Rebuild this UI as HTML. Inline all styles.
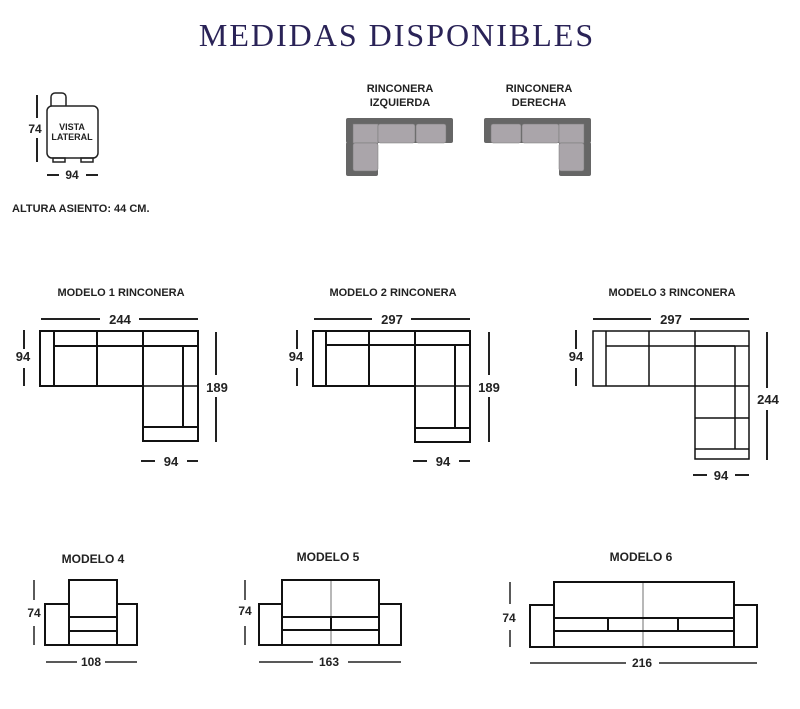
<!DOCTYPE html>
<html><head><meta charset="utf-8"><style>
html,body{margin:0;padding:0;background:#fff;width:800px;height:709px;overflow:hidden}
svg{display:block}
text{font-family:"Liberation Sans",Arial,sans-serif;fill:#222;font-weight:bold}
</style></head><body>
<svg width="800" height="709" viewBox="0 0 800 709" xmlns="http://www.w3.org/2000/svg">
<text x="397" y="46" text-anchor="middle" style="font-family:'Liberation Serif',serif;font-weight:normal;font-size:32px;letter-spacing:2px;fill:#2a2357">MEDIDAS DISPONIBLES</text>

<!-- side view -->
<g fill="none" stroke="#222" stroke-width="1.5">
<rect x="51" y="93" width="15" height="16" rx="4"/>
<rect x="47" y="106" width="51" height="52" rx="5" fill="#fff"/>
<rect x="53" y="158" width="12" height="4"/><rect x="81" y="158" width="12" height="4"/>
</g>
<g stroke="#222" stroke-width="2"><line x1="37" y1="95" x2="37" y2="118"/><line x1="37" y1="138" x2="37" y2="162"/>
<line x1="47" y1="175" x2="59" y2="175"/><line x1="86" y1="175" x2="98" y2="175"/></g>
<text x="35" y="133" text-anchor="middle" font-size="12">74</text>
<text x="72" y="130" text-anchor="middle" font-size="9">VISTA</text>
<text x="72" y="140" text-anchor="middle" font-size="9">LATERAL</text>
<text x="72" y="179" text-anchor="middle" font-size="12">94</text>
<text x="12" y="212" font-size="11">ALTURA ASIENTO: 44 CM.</text>

<!-- corner icons -->
<text x="400" y="92" text-anchor="middle" font-size="11">RINCONERA</text>
<text x="400" y="106" text-anchor="middle" font-size="11">IZQUIERDA</text>
<text x="539" y="92" text-anchor="middle" font-size="11">RINCONERA</text>
<text x="539" y="106" text-anchor="middle" font-size="11">DERECHA</text>
<g fill="#666">
<rect x="346" y="118" width="107" height="25" rx="2"/><rect x="346" y="142" width="32" height="34" rx="2"/>
<rect x="484" y="118" width="107" height="25" rx="2"/><rect x="559" y="142" width="32" height="34" rx="2"/>
</g>
<g fill="#aaa5aa" stroke="#777" stroke-width="0.5">
<rect x="353" y="124" width="25" height="19"/><rect x="378" y="124" width="37" height="19" rx="2"/><rect x="416" y="124" width="30" height="19" rx="2"/>
<rect x="353" y="143" width="25" height="28" rx="2"/>
<rect x="491" y="124" width="30" height="19" rx="2"/><rect x="522" y="124" width="37" height="19" rx="2"/><rect x="559" y="124" width="25" height="19"/>
<rect x="559" y="143" width="25" height="28" rx="2"/>
</g>

<!-- Model titles -->
<text x="121" y="296" text-anchor="middle" font-size="11">MODELO 1 RINCONERA</text>
<text x="393" y="296" text-anchor="middle" font-size="11">MODELO 2 RINCONERA</text>
<text x="672" y="296" text-anchor="middle" font-size="11">MODELO 3 RINCONERA</text>

<!-- Model 1 -->
<g fill="none" stroke="#111" stroke-width="2">
<path d="M40 331 H198 V441 H143 V386 H40 Z"/>
<line x1="54" y1="331" x2="54" y2="386"/><line x1="54" y1="346" x2="183" y2="346"/>
<line x1="97" y1="331" x2="97" y2="386"/><line x1="143" y1="331" x2="143" y2="386"/>
<line x1="143" y1="346" x2="198" y2="346"/><line x1="183" y1="346" x2="183" y2="427"/>
<line x1="143" y1="427" x2="198" y2="427"/><line x1="143" y1="386" x2="198" y2="386" stroke-width="1.5"/>
</g>
<g stroke="#222" stroke-width="2">
<line x1="41" y1="319" x2="100" y2="319"/><line x1="139" y1="319" x2="198" y2="319"/>
<line x1="24" y1="330" x2="24" y2="349"/><line x1="24" y1="368" x2="24" y2="386"/>
<line x1="216" y1="332" x2="216" y2="375"/><line x1="216" y1="397" x2="216" y2="442"/>
<line x1="141" y1="461" x2="155" y2="461"/><line x1="187" y1="461" x2="198" y2="461"/>
</g>
<text x="120" y="324" text-anchor="middle" font-size="13" font-weight="normal">244</text>
<text x="23" y="361" text-anchor="middle" font-size="13" font-weight="normal">94</text>
<text x="217" y="392" text-anchor="middle" font-size="13" font-weight="normal">189</text>
<text x="171" y="466" text-anchor="middle" font-size="13" font-weight="normal">94</text>

<!-- Model 2 -->
<g fill="none" stroke="#111" stroke-width="2">
<path d="M313 331 H470 V442 H415 V386 H313 Z"/>
<line x1="326" y1="331" x2="326" y2="386"/><line x1="326" y1="345" x2="455" y2="345"/>
<line x1="369" y1="331" x2="369" y2="386"/><line x1="415" y1="331" x2="415" y2="386"/>
<line x1="415" y1="345" x2="470" y2="345"/><line x1="455" y1="345" x2="455" y2="428"/>
<line x1="415" y1="428" x2="470" y2="428"/><line x1="415" y1="386" x2="470" y2="386" stroke-width="1.5"/>
</g>
<g stroke="#222" stroke-width="2">
<line x1="314" y1="319" x2="372" y2="319"/><line x1="411" y1="319" x2="470" y2="319"/>
<line x1="297" y1="330" x2="297" y2="349"/><line x1="297" y1="368" x2="297" y2="386"/>
<line x1="489" y1="332" x2="489" y2="375"/><line x1="489" y1="397" x2="489" y2="442"/>
<line x1="413" y1="461" x2="427" y2="461"/><line x1="459" y1="461" x2="470" y2="461"/>
</g>
<text x="392" y="324" text-anchor="middle" font-size="13" font-weight="normal">297</text>
<text x="296" y="361" text-anchor="middle" font-size="13" font-weight="normal">94</text>
<text x="489" y="392" text-anchor="middle" font-size="13" font-weight="normal">189</text>
<text x="443" y="466" text-anchor="middle" font-size="13" font-weight="normal">94</text>

<!-- Model 3 -->
<g fill="none" stroke="#111" stroke-width="1.5">
<path d="M593 331 H749 V459 H695 V386 H593 Z"/>
<line x1="606" y1="331" x2="606" y2="386"/><line x1="606" y1="346" x2="735" y2="346"/>
<line x1="649" y1="331" x2="649" y2="386"/><line x1="695" y1="331" x2="695" y2="386"/>
<line x1="695" y1="346" x2="749" y2="346"/><line x1="735" y1="346" x2="735" y2="449"/>
<line x1="695" y1="449" x2="749" y2="449"/><line x1="695" y1="386" x2="749" y2="386"/>
<line x1="695" y1="418" x2="749" y2="418"/>
</g>
<g stroke="#222" stroke-width="2">
<line x1="593" y1="319" x2="651" y2="319"/><line x1="690" y1="319" x2="749" y2="319"/>
<line x1="576" y1="330" x2="576" y2="349"/><line x1="576" y1="368" x2="576" y2="386"/>
<line x1="767" y1="332" x2="767" y2="388"/><line x1="767" y1="410" x2="767" y2="460"/>
<line x1="693" y1="475" x2="707" y2="475"/><line x1="735" y1="475" x2="749" y2="475"/>
</g>
<text x="671" y="324" text-anchor="middle" font-size="13" font-weight="normal">297</text>
<text x="576" y="361" text-anchor="middle" font-size="13" font-weight="normal">94</text>
<text x="768" y="404" text-anchor="middle" font-size="13" font-weight="normal">244</text>
<text x="721" y="480" text-anchor="middle" font-size="13" font-weight="normal">94</text>

<!-- Model 4 -->
<text x="93" y="563" text-anchor="middle" font-size="12">MODELO 4</text>
<g fill="none" stroke="#111" stroke-width="2">
<path d="M45 645 V604 H69 V580 H117 V604 H137 V645 Z"/>
<line x1="69" y1="604" x2="69" y2="645"/><line x1="117" y1="604" x2="117" y2="645"/>
<line x1="69" y1="617" x2="117" y2="617"/><line x1="69" y1="631" x2="117" y2="631"/>
</g>
<g stroke="#222" stroke-width="1.5"><line x1="34" y1="580" x2="34" y2="600"/><line x1="34" y1="626" x2="34" y2="645"/>
<line x1="46" y1="662" x2="77" y2="662"/><line x1="105" y1="662" x2="137" y2="662"/></g>
<text x="34" y="617" text-anchor="middle" font-size="12">74</text>
<text x="91" y="666" text-anchor="middle" font-size="12">108</text>

<!-- Model 5 -->
<text x="328" y="561" text-anchor="middle" font-size="12">MODELO 5</text>
<g fill="none" stroke="#111" stroke-width="2">
<path d="M259 645 V604 H282 V580 H379 V604 H401 V645 Z"/>
<line x1="282" y1="604" x2="282" y2="645"/><line x1="379" y1="604" x2="379" y2="645"/>
<line x1="282" y1="617" x2="379" y2="617"/><line x1="282" y1="630" x2="379" y2="630"/>
<line x1="331" y1="617" x2="331" y2="630"/>
</g>
<line x1="331" y1="580" x2="331" y2="645" stroke="#111" stroke-width="0.6"/>
<g stroke="#222" stroke-width="1.5"><line x1="245" y1="580" x2="245" y2="600"/><line x1="245" y1="626" x2="245" y2="645"/>
<line x1="259" y1="662" x2="313" y2="662"/><line x1="348" y1="662" x2="401" y2="662"/></g>
<text x="245" y="615" text-anchor="middle" font-size="12">74</text>
<text x="329" y="666" text-anchor="middle" font-size="12">163</text>

<!-- Model 6 -->
<text x="641" y="561" text-anchor="middle" font-size="12">MODELO 6</text>
<g fill="none" stroke="#111" stroke-width="2">
<path d="M530 647 V605 H554 V582 H734 V605 H757 V647 Z"/>
<line x1="554" y1="605" x2="554" y2="647"/><line x1="734" y1="605" x2="734" y2="647"/>
<line x1="554" y1="618" x2="734" y2="618"/><line x1="554" y1="631" x2="734" y2="631"/>
<line x1="608" y1="618" x2="608" y2="631"/><line x1="678" y1="618" x2="678" y2="631"/>
</g>
<line x1="643" y1="582" x2="643" y2="647" stroke="#111" stroke-width="0.6"/>
<g stroke="#222" stroke-width="1.5"><line x1="510" y1="582" x2="510" y2="604"/><line x1="510" y1="630" x2="510" y2="647"/>
<line x1="530" y1="663" x2="626" y2="663"/><line x1="659" y1="663" x2="757" y2="663"/></g>
<text x="509" y="622" text-anchor="middle" font-size="12">74</text>
<text x="642" y="667" text-anchor="middle" font-size="12">216</text>
</svg>
</body></html>
